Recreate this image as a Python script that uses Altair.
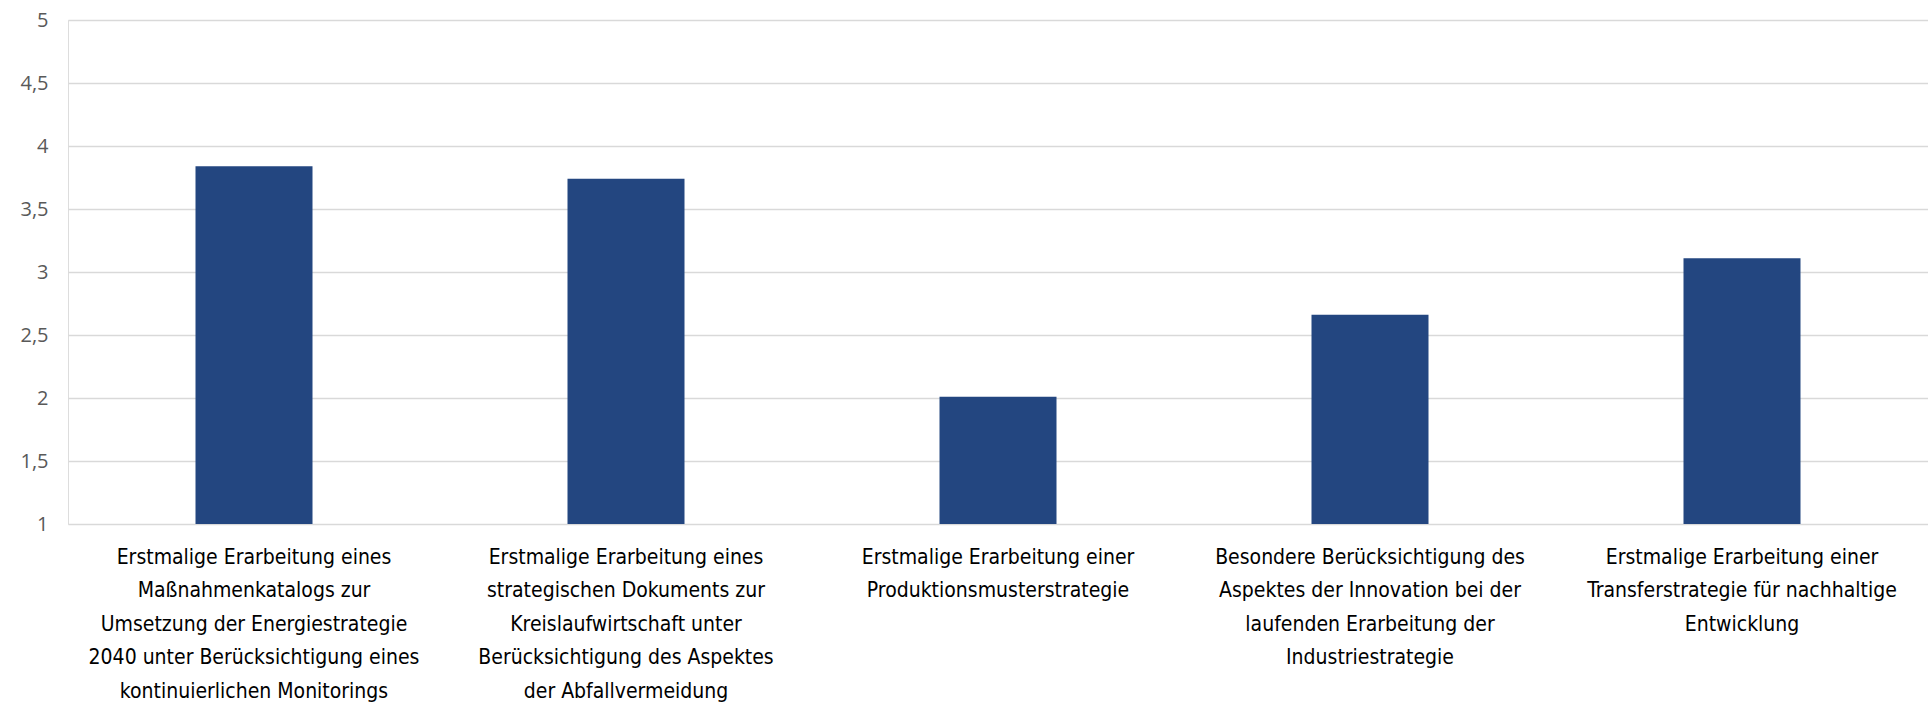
import altair as alt
import pandas as pd

label_lines = [
    ["Erstmalige Erarbeitung eines", "Maßnahmenkatalogs zur", "Umsetzung der Energiestrategie",
     "2040 unter Berücksichtigung eines", "kontinuierlichen Monitorings"],
    ["Erstmalige Erarbeitung eines", "strategischen Dokuments zur", "Kreislaufwirtschaft unter",
     "Berücksichtigung des Aspektes", "der Abfallvermeidung"],
    ["Erstmalige Erarbeitung einer", "Produktionsmusterstrategie"],
    ["Besondere Berücksichtigung des", "Aspektes der Innovation bei der",
     "laufenden Erarbeitung der", "Industriestrategie"],
    ["Erstmalige Erarbeitung einer", "Transferstrategie für nachhaltige", "Entwicklung"],
]
values = [3.84, 3.74, 2.01, 2.66, 3.11]
y_ticks = [1, 1.5, 2, 2.5, 3, 3.5, 4, 4.5, 5]

categories = ["|".join(l) for l in label_lines]
df = pd.DataFrame({"cat": categories, "value": values})

chart = alt.Chart(df).mark_bar(color="#234680", size=117).encode(
    x=alt.X("cat:N", sort=categories, title=None,
            scale=alt.Scale(paddingInner=0.68, paddingOuter=0.34),
            axis=alt.Axis(labelAngle=0, labelExpr="split(datum.label, '|')",
                          labelFont="DejaVu Sans Condensed", labelFontSize=21,
                          labelLineHeight=33.6, labelColor="#000000", labelLimit=600,
                          labelPadding=22, ticks=False, domain=False, grid=False,
                          labelBaseline="top")),
    y=alt.Y("value:Q", title=None,
            scale=alt.Scale(domain=[1, 5], nice=False, zero=False),
            axis=alt.Axis(values=y_ticks,
                          labelExpr="replace(format(datum.value, '~g'), '.', ',')",
                          labelFont="Open Sans", labelFontSize=20, labelColor="#595959",
                          labelPadding=20, ticks=False, domain=False,
                          grid=True, gridColor="#d9d9d9", gridWidth=1.6)),
    y2=alt.datum(1),
).properties(
    width=1860, height=504,
    autosize=alt.AutoSizeParams(type="none"),
    padding={"left": 68, "top": 20, "right": 0, "bottom": 183},
).configure_view(stroke=None).configure(background="#ffffff")

chart.save("out.html", embed_options={"renderer": "svg", "actions": False})
